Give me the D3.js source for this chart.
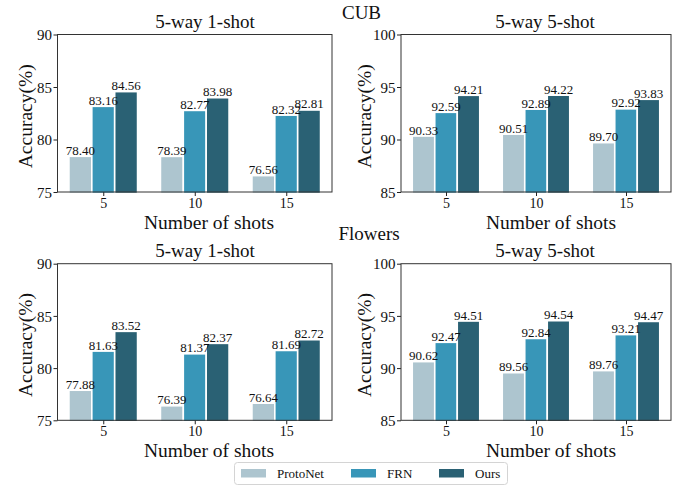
<!DOCTYPE html>
<html>
<head>
<meta charset="utf-8">
<script src="https://cdn.jsdelivr.net/npm/d3@7"></script>
<style>
  body { margin: 0; background: #fff; }
  svg text { font-family: "Liberation Serif", "Times New Roman", serif; fill: #111; }
</style>
</head>
<body>
<svg id="chart" width="686" height="487"></svg>
<script>
// data
const shots = ["5", "10", "15"];
const methods = ["ProtoNet", "FRN", "Ours"];
const colors = ["#adc5cf", "#3896b8", "#2a6174"];

const cub1shot = [[78.40, 83.16, 84.56], [78.39, 82.77, 83.98], [76.56, 82.32, 82.81]];
const cub5shot = [[90.33, 92.59, 94.21], [90.51, 92.89, 94.22], [89.70, 92.92, 93.83]];
const flw1shot = [[77.88, 81.63, 83.52], [76.39, 81.37, 82.37], [76.64, 81.69, 82.72]];
const flw5shot = [[90.62, 92.47, 94.51], [89.56, 92.84, 94.54], [89.76, 93.21, 94.47]];

const yDomain1 = [75, 90];
const yDomain5 = [85, 100];
const yTicks1 = [75, 80, 85, 90];
const yTicks5 = [85, 90, 95, 100];

var svg = d3.select("#chart");

var panels = [
  { title: "5-way 1-shot", values: cub1shot, dom: yDomain1, ticks: yTicks1, l: 57.5, r: 332, t: 34.5, b: 192, tx: 205, lx: 209, ylx: 25 },
  { title: "5-way 5-shot", values: cub5shot, dom: yDomain5, ticks: yTicks5, l: 401, r: 671, t: 34.5, b: 192, tx: 545, lx: 551, ylx: 364 },
  { title: "5-way 1-shot", values: flw1shot, dom: yDomain1, ticks: yTicks1, l: 57.5, r: 332, t: 263.7, b: 420.3, tx: 205, lx: 209, ylx: 25 },
  { title: "5-way 5-shot", values: flw5shot, dom: yDomain5, ticks: yTicks5, l: 401, r: 671, t: 263.7, b: 420.3, tx: 545, lx: 551, ylx: 364 }
];

var barW = 0.25;

panels.forEach(function (p) {
  var x = d3.scaleLinear().domain([-0.5, 2.5]).range([p.l, p.r]);
  var y = d3.scaleLinear().domain(p.dom).range([p.b, p.t]);
  var unit = x(1) - x(0);
  var g = svg.append("g");

  // bars
  p.values.forEach(function (grp, i) {
    g.selectAll(null)
      .data(grp)
      .enter()
      .append("rect")
      .attr("x", (d, j) => x(i + (j - 1) * barW - barW / 2))
      .attr("y", d => y(d))
      .attr("width", barW * unit)
      .attr("height", d => p.b - y(d) + 1.5)
      .attr("fill", (d, j) => colors[j])
      .attr("stroke", "#fff")
      .attr("stroke-width", 1.6);

    g.selectAll(null)
      .data(grp)
      .enter()
      .append("text")
      .attr("x", (d, j) => x(i + (j - 1) * barW))
      .attr("y", d => y(d) - 1.5)
      .attr("text-anchor", "middle")
      .style("font-size", "13px")
      .text(d => d.toFixed(2));
  });

  // axes
  var yAxis = d3.axisLeft(y).tickValues(p.ticks).tickSize(4).tickPadding(1.5);
  var ya = g.append("g").attr("transform", "translate(" + p.l + ",0)").call(yAxis);
  ya.select(".domain").remove();
  ya.selectAll("text").style("font-size", "15px").attr("dy", "0.35em");
  ya.selectAll("line").attr("stroke", "#222");

  var xAxis = d3.axisBottom(x).tickValues([0, 1, 2]).tickFormat(i => shots[i]).tickSize(4).tickPadding(2);
  var xa = g.append("g").attr("transform", "translate(0," + p.b + ")").call(xAxis);
  xa.select(".domain").remove();
  xa.selectAll("text").style("font-size", "14px");
  xa.selectAll("line").attr("stroke", "#222");

  g.append("rect")
    .attr("x", p.l).attr("y", p.t)
    .attr("width", p.r - p.l).attr("height", p.b - p.t)
    .attr("fill", "none").attr("stroke", "#333").attr("stroke-width", 1);

  g.append("text")
    .attr("x", p.tx).attr("y", p.t - 6.5)
    .attr("text-anchor", "middle")
    .style("font-size", "19px")
    .text(p.title);

  g.append("text")
    .attr("x", p.lx).attr("y", p.b + 36.5)
    .attr("text-anchor", "middle")
    .style("font-size", "19.5px")
    .text("Number of shots");

  g.append("text")
    .attr("transform", "translate(" + (p.ylx + 7) + "," + ((p.t + p.b) / 2 + 3) + ") rotate(-90)")
    .attr("text-anchor", "middle")
    .style("font-size", "19.5px")
    .text("Accuracy(%)");
});

// dataset headers
svg.append("text").attr("x", 361.5).attr("y", 18.5).attr("text-anchor", "middle").style("font-size", "19px").text("CUB");
svg.append("text").attr("x", 369).attr("y", 240).attr("text-anchor", "middle").style("font-size", "19px").text("Flowers");

// legend
var leg = svg.append("g");
leg.append("rect")
  .attr("x", 234.5).attr("y", 462.5).attr("width", 273).attr("height", 22).attr("rx", 3)
  .attr("fill", "#fff").attr("stroke", "#d4d4d4");
var legX = [241, 351, 439];
methods.forEach(function (m, i) {
  leg.append("rect").attr("x", legX[i]).attr("y", 469).attr("width", 25).attr("height", 8.5).attr("fill", colors[i]);
  leg.append("text").attr("x", legX[i] + 36).attr("y", 477.5).style("font-size", "13px").text(m);
});
</script>
</body>
</html>
